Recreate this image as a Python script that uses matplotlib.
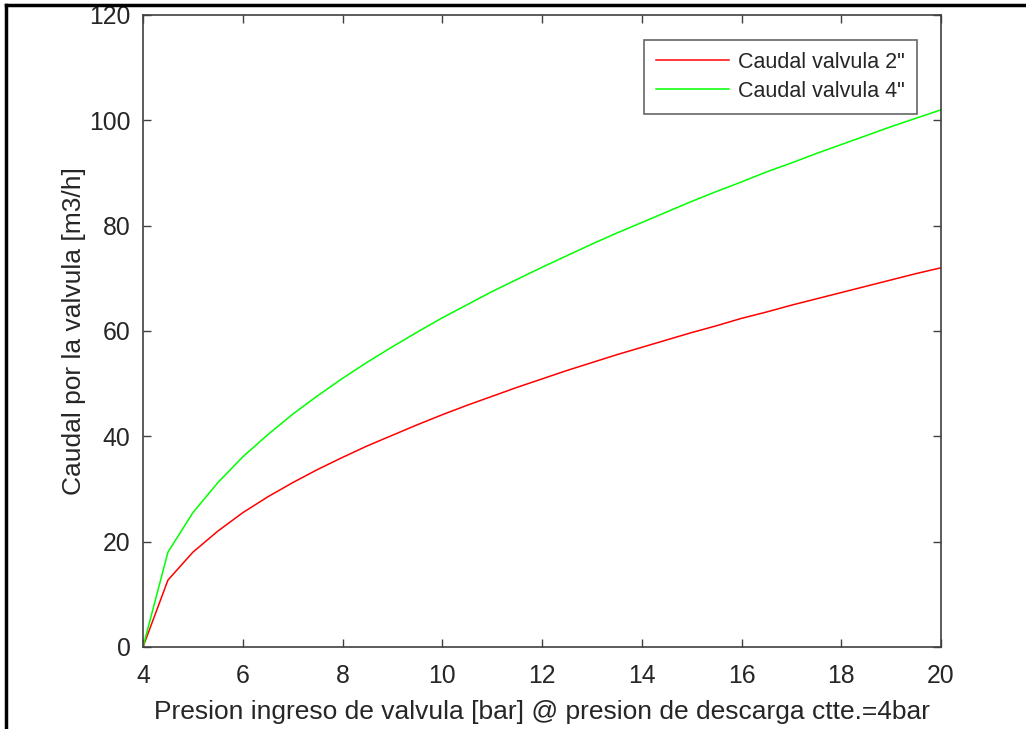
import matplotlib.pyplot as plt
from matplotlib.lines import Line2D

plt.rcParams['font.family'] = ['Liberation Sans', 'DejaVu Sans']

# inlet pressure [bar], discharge fixed at 4 bar
presion = [4.0, 4.5, 5.0, 5.5, 6.0, 6.5, 7.0, 7.5, 8.0, 8.5, 9.0, 9.5,
           10.0, 10.5, 11.0, 11.5, 12.0, 12.5, 13.0, 13.5, 14.0, 14.5,
           15.0, 15.5, 16.0, 16.5, 17.0, 17.5, 18.0, 18.5, 19.0, 19.5, 20.0]

# flow through each valve [m3/h]
caudal_2 = [0.0, 12.7, 18.0, 22.0, 25.5, 28.5, 31.2, 33.7, 36.0, 38.2,
            40.2, 42.2, 44.1, 45.9, 47.6, 49.3, 50.9, 52.5, 54.0, 55.5,
            56.9, 58.3, 59.7, 61.0, 62.4, 63.6, 64.9, 66.1, 67.3, 68.5,
            69.7, 70.9, 72.0]
caudal_4 = [0.0, 18.0, 25.5, 31.2, 36.1, 40.3, 44.2, 47.7, 51.0, 54.1,
            57.0, 59.8, 62.5, 65.0, 67.5, 69.8, 72.1, 74.3, 76.5, 78.6,
            80.6, 82.6, 84.6, 86.5, 88.3, 90.2, 91.9, 93.7, 95.4, 97.1,
            98.8, 100.4, 102.0]

xticks = [4, 6, 8, 10, 12, 14, 16, 18, 20]
yticks = [0, 20, 40, 60, 80, 100, 120]

W, H = 1026, 729
fig = plt.figure(figsize=(W / 100, H / 100), dpi=100)
ax = fig.add_axes([143 / W, 1 - 647 / H, (941 - 143) / W, (647 - 15) / H])

ax.plot(presion, caudal_2, color='#ff0000', lw=1.1, label='Caudal valvula 2"')
ax.plot(presion, caudal_4, color='#00ff00', lw=1.1, label='Caudal valvula 4"')

ax.set_xlim(4, 20)
ax.set_ylim(0, 120)
ax.set_xticks(xticks)
ax.set_yticks(yticks)

txt = '#262626'
for s in ax.spines.values():
    s.set_color('#404040')
    s.set_linewidth(1.2)
ax.tick_params(direction='in', length=6, width=1, color='#404040',
               top=True, right=True, labelsize=17.8, labelcolor=txt)
ax.tick_params(axis='x', pad=12)
ax.tick_params(axis='y', pad=9)

ax.set_xlabel('Presion ingreso de valvula [bar] @ presion de descarga ctte.=4bar',
              fontsize=19, color=txt, labelpad=9)
ax.set_ylabel('Caudal por la valvula [m3/h]', fontsize=19, color=txt, labelpad=2)

leg = ax.legend(loc='upper right', bbox_to_anchor=(917 / W, 1 - 40 / H),
                bbox_transform=fig.transFigure, fontsize=15.5, frameon=True,
                fancybox=False, handlelength=3.4, borderpad=0.55,
                labelspacing=0.38, handletextpad=0.45, borderaxespad=0)
leg.get_frame().set_edgecolor('#404040')
leg.get_frame().set_linewidth(1.2)
for t in leg.get_texts():
    t.set_color(txt)

# window border
fig.add_artist(Line2D([6 / W, 1], [1 - 5 / H, 1 - 5 / H], color='black', lw=2.5))
fig.add_artist(Line2D([6 / W, 6 / W], [0, 1 - 5 / H], color='black', lw=2.5))

fig.savefig('out.png', dpi=100)
